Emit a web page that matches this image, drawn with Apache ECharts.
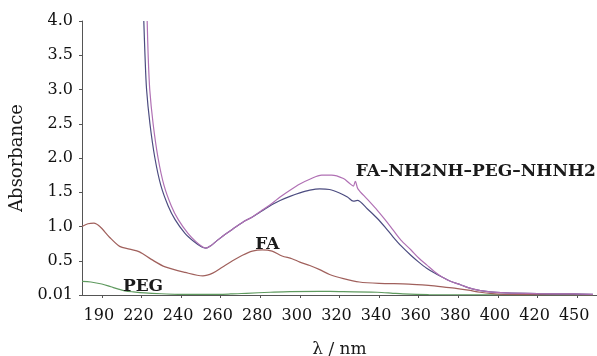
<!DOCTYPE html>
<html>
<head>
<meta charset="utf-8">
<script src="https://cdn.jsdelivr.net/npm/echarts@6/dist/echarts.min.js"></script>
<style>
  html, body { margin: 0; padding: 0; background: #fff; }
  #chart { width: 597px; height: 356px; }
</style>
</head>
<body>
<div id="chart"></div>
<script>
// tick positions (nm) and the labels printed under them
const wavelengthTicks = [200, 220, 240, 260, 280, 300, 320, 340, 360, 380, 400, 420, 440];
const tickLabels = ["190", "220", "240", "260", "280", "300", "320", "340", "360", "380", "400", "420", "450"];
const yTickLabels = ["0.01", "0.5", "1.0", "1.5", "2.0", "2.5", "3.0", "3.5", "4.0"];

// [wavelength nm, absorbance]
const pegData = [
  [190, 0.20], [194.5, 0.19], [200, 0.16], [204.6, 0.12], [208, 0.09], [211.7, 0.06],
  [216, 0.045], [221.8, 0.03], [230, 0.018], [238.5, 0.01], [255, 0.008], [265, 0.015],
  [273, 0.025], [285, 0.04], [295, 0.05], [310, 0.052], [320, 0.05], [339, 0.04],
  [346, 0.028], [352, 0.015], [365, 0.005], [400, 0.003], [448, 0.003]
];

const faData = [
  [190, 1.00], [193, 1.04], [196, 1.05], [199, 1.00], [204, 0.84], [209, 0.71],
  [214, 0.67], [219, 0.63], [225, 0.52], [232, 0.41], [242, 0.33], [251, 0.28],
  [256, 0.32], [261, 0.41], [266, 0.50], [271, 0.58], [276, 0.64], [281, 0.66],
  [286, 0.64], [291, 0.57], [296, 0.53], [300, 0.48], [305, 0.43], [310, 0.37],
  [315, 0.30], [322, 0.24], [330, 0.19], [340, 0.17], [355, 0.16], [365, 0.14],
  [372, 0.12], [378, 0.10], [385, 0.07], [391, 0.04], [397, 0.02], [403, 0.01],
  [420, 0.005], [448, 0.003]
];

const conjugateA = [
  [221.2, 4.0], [221.8, 3.5], [222.6, 3.0], [224.3, 2.5], [226.8, 2.0], [229.8, 1.6],
  [233.5, 1.3], [237, 1.1], [242, 0.9], [246.5, 0.78], [250.5, 0.70], [252.5, 0.685],
  [255, 0.72], [258, 0.79], [262, 0.88], [266, 0.96], [271, 1.06], [276, 1.14],
  [281, 1.23], [286, 1.32], [290, 1.38], [295, 1.44], [300, 1.49], [305, 1.53],
  [310, 1.55], [315, 1.54], [320, 1.49], [324, 1.43], [327, 1.37], [329, 1.38],
  [334, 1.26], [339, 1.12], [343, 0.99], [347, 0.85], [351, 0.72], [356, 0.58],
  [360, 0.48], [364, 0.39], [368, 0.32], [372, 0.26], [376, 0.20], [381, 0.15],
  [387, 0.09], [396, 0.045], [404, 0.03], [420, 0.02], [438, 0.015], [448, 0.01]
];

const conjugateB = [
  [222.9, 4.0], [223.4, 3.5], [224.2, 3.0], [225.9, 2.5], [228.4, 2.0], [231.4, 1.6],
  [235.1, 1.3], [238.6, 1.1], [243.5, 0.9], [247.5, 0.78], [251, 0.70], [252.5, 0.685],
  [255, 0.72], [258, 0.79], [262, 0.88], [266, 0.96], [271, 1.06], [276, 1.14],
  [281, 1.24], [286, 1.34], [290, 1.43], [295, 1.53], [300, 1.62], [305, 1.69],
  [311, 1.75], [316, 1.75], [322, 1.70], [325, 1.63], [327, 1.59], [328, 1.66],
  [329.3, 1.55], [334, 1.40], [339, 1.24], [343, 1.10], [347, 0.95], [351, 0.80],
  [356, 0.66], [360, 0.54], [364, 0.44], [368, 0.34], [372, 0.26], [376, 0.20],
  [381, 0.15], [387, 0.09], [396, 0.045], [404, 0.03], [420, 0.02], [438, 0.015], [448, 0.01]
];

// annotation anchors in data space
const pegLabelAt = [220.8, 0.13];
const faLabelAt = [283.6, 0.73];
const conjLabelAt = [388.8, 1.80];

const FONT = "DejaVu Serif";

function tag(text, coord) {
  return {
    symbol: "rect",
    symbolSize: 1,
    itemStyle: { color: "rgba(0,0,0,0)" },
    label: {
      show: true,
      position: "inside",
      formatter: text,
      color: "#1a1a1a",
      fontFamily: FONT,
      fontWeight: "bold",
      fontSize: 17
    },
    data: [{ coord: coord }]
  };
}

const chart = echarts.init(document.getElementById("chart"), null, { renderer: "canvas" });

chart.setOption({
  backgroundColor: "#fff",
  animation: false,
  grid: { left: 82, right: 0, top: 21, bottom: 61, outerBoundsMode: "none", containLabel: false },
  xAxis: {
    type: "value",
    min: 190,
    max: 450,
    name: "λ / nm",
    nameLocation: "middle",
    nameGap: 46,
    nameTextStyle: { color: "#1a1a1a", fontFamily: FONT, fontSize: 17 },
    axisLine: { show: true, lineStyle: { color: "#555", width: 1 } },
    axisTick: { show: true, length: 3, customValues: wavelengthTicks, lineStyle: { color: "#555" } },
    axisLabel: {
      customValues: wavelengthTicks,
      formatter: function (v) {
        const i = wavelengthTicks.indexOf(Math.round(v));
        return i >= 0 ? tickLabels[i] : "";
      },
      color: "#111",
      fontFamily: FONT,
      fontSize: 16,
      margin: 13,
      padding: [0, 6, 0, 0]
    },
    splitLine: { show: false }
  },
  yAxis: {
    type: "value",
    min: 0,
    max: 4,
    interval: 0.5,
    name: "Absorbance",
    nameLocation: "middle",
    nameGap: 41,
    nameTextStyle: { color: "#1a1a1a", fontFamily: FONT, fontSize: 18 },
    axisLine: { show: true, lineStyle: { color: "#555", width: 1 } },
    axisTick: { show: true, length: 3, lineStyle: { color: "#555" } },
    axisLabel: {
      formatter: function (v) { return yTickLabels[Math.round(v / 0.5)]; },
      color: "#111",
      fontFamily: FONT,
      fontSize: 16,
      margin: 9
    },
    splitLine: { show: false }
  },
  series: [
    {
      name: "PEG",
      type: "line",
      data: pegData,
      showSymbol: false,
      smooth: 0.3,
      lineStyle: { color: "#5f9a5f", width: 1.2 },
      markPoint: tag("PEG", pegLabelAt)
    },
    {
      name: "FA",
      type: "line",
      data: faData,
      showSymbol: false,
      smooth: 0.3,
      lineStyle: { color: "#a0605c", width: 1.2 },
      markPoint: tag("FA", faLabelAt)
    },
    {
      name: "FA-NH2NH-PEG-NHNH2 a",
      type: "line",
      data: conjugateA,
      showSymbol: false,
      smooth: 0.3,
      lineStyle: { color: "#4c4c80", width: 1.2 }
    },
    {
      name: "FA-NH2NH-PEG-NHNH2 b",
      type: "line",
      data: conjugateB,
      showSymbol: false,
      smooth: 0.3,
      lineStyle: { color: "#b070b4", width: 1.2 },
      markPoint: tag("FA–NH2NH–PEG–NHNH2", conjLabelAt)
    }
  ]
});
</script>
</body>
</html>
